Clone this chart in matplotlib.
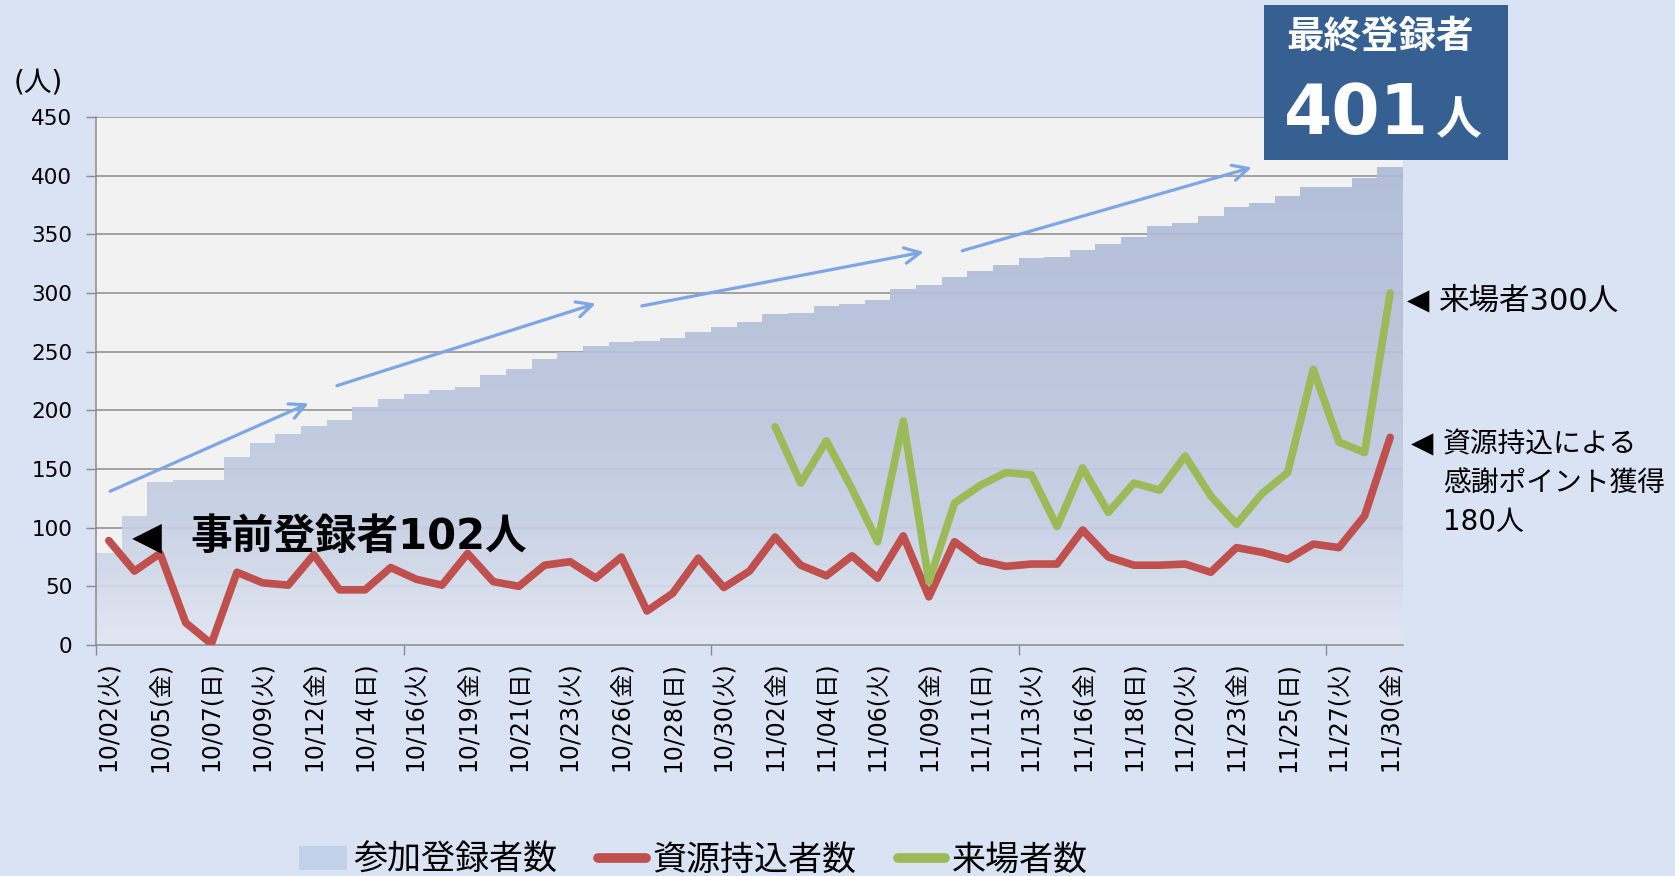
import matplotlib
matplotlib.use('Agg')
import matplotlib.pyplot as plt
import numpy as np
from matplotlib.colors import LinearSegmentedColormap
from matplotlib.patches import Patch, Rectangle
from matplotlib.lines import Line2D

# Latin digits from DejaVu (wide, like the original), kana/kanji from Noto CJK
plt.rcParams['font.family'] = ['DejaVu Sans', 'Noto Sans CJK JP']

# category labels (closed on Thursdays)
dates = ['10/02(火)', '10/03(水)', '10/05(金)', '10/06(土)', '10/07(日)', '10/08(月)',
         '10/09(火)', '10/10(水)', '10/12(金)', '10/13(土)', '10/14(日)', '10/15(月)',
         '10/16(火)', '10/17(水)', '10/19(金)', '10/20(土)', '10/21(日)', '10/22(月)',
         '10/23(火)', '10/24(水)', '10/26(金)', '10/27(土)', '10/28(日)', '10/29(月)',
         '10/30(火)', '10/31(水)', '11/02(金)', '11/03(土)', '11/04(日)', '11/05(月)',
         '11/06(火)', '11/07(水)', '11/09(金)', '11/10(土)', '11/11(日)', '11/12(月)',
         '11/13(火)', '11/14(水)', '11/16(金)', '11/17(土)', '11/18(日)', '11/19(月)',
         '11/20(火)', '11/21(水)', '11/23(金)', '11/24(土)', '11/25(日)', '11/26(月)',
         '11/27(火)', '11/28(水)', '11/30(金)']

# 参加登録者数 (cumulative)
registered = [78, 110, 139, 141, 141, 160, 172, 180, 187, 192,
              203, 210, 214, 217, 220, 230, 235, 244, 250, 255,
              258, 259, 262, 267, 271, 275, 282, 283, 289, 291,
              294, 303, 307, 314, 319, 324, 330, 331, 337, 342,
              348, 357, 360, 366, 373, 377, 383, 390, 390, 398, 407]

# 資源持込者数
resource = [89, 63, 78, 19, 1, 62, 53, 51, 77, 47,
            47, 66, 56, 51, 78, 54, 50, 68, 71, 57,
            75, 29, 44, 74, 49, 63, 92, 68, 59, 76,
            57, 93, 41, 88, 72, 67, 69, 69, 98, 75,
            68, 68, 69, 62, 83, 79, 73, 86, 83, 110, 177]

# 来場者数 (from 11/02)
visitor_start = '11/02(金)'
visitors = [186, 138, 174, 133, 88, 191, 54, 121, 136, 147,
            145, 101, 151, 113, 138, 132, 161, 127, 103, 129,
            147, 235, 173, 164, 300]

legend_labels = ['参加登録者数', '資源持込者数', '来場者数']

RED = '#C0504D'
GREEN = '#9BBB59'
ARROW = '#7FA6E4'

W, H = 1675, 876
fig = plt.figure(figsize=(W / 100, H / 100), dpi=100, facecolor='#DAE3F3')
ax = fig.add_axes([96 / W, 1 - 645 / H, (1403 - 96) / W, (645 - 117) / H])
ax.set_facecolor('#F2F2F2')

x = np.arange(len(dates))

# gradient-filled stepped columns
cmap = LinearSegmentedColormap.from_list(
    'reg', [(0, '#E0E6F2'), (0.25, '#C4CEE3'), (0.6, '#B5C1DA'), (1, '#ACB9D5')])
grad = np.linspace(0, 1, 256).reshape(-1, 1)
im = ax.imshow(grad, cmap=cmap, extent=(-0.5, len(dates) - 0.5, 0, 450),
               origin='lower', aspect='auto', zorder=1, alpha=0.92)
edges = np.arange(len(dates) + 1) - 0.5
poly = ax.fill_between(edges, np.append(registered, registered[-1]), step='post',
                       facecolor='none', edgecolor='none', zorder=1)
im.set_clip_path(poly.get_paths()[0], transform=ax.transData)

# lines
ax.plot(x, resource, color=RED, lw=5.5, solid_joinstyle='round',
        solid_capstyle='round', zorder=3)
vs = dates.index(visitor_start)
ax.plot(x[vs:], visitors, color=GREEN, lw=5.5, solid_joinstyle='round',
        solid_capstyle='round', zorder=3)

ax.set_xlim(-0.5, len(dates) - 0.5)
ax.set_ylim(0, 450)
ax.set_yticks(np.arange(0, 451, 50))
ax.yaxis.grid(True, color='#8C8C8C', lw=1.1)
ax.set_axisbelow(True)

ax.set_xticks(x[::2])
ax.set_xticklabels(dates[::2], rotation=90, fontsize=17)
ax.set_xticks(np.arange(-0.5, len(dates), 12), minor=True)
ax.tick_params(axis='x', which='major', length=0, pad=12, colors='#000000')
ax.tick_params(axis='x', which='minor', length=7, color='#8C8C8C', width=1)
ax.tick_params(axis='y', length=7, color='#8C8C8C', width=1, pad=10,
               labelsize=15.5, labelcolor='#000000')
for s in ['top', 'right']:
    ax.spines[s].set_visible(False)
for s in ['left', 'bottom']:
    ax.spines[s].set_color('#8C8C8C')
    ax.spines[s].set_linewidth(1.1)

fig.text(14 / W, 1 - 82 / H, '(人)', fontsize=20, va='center', ha='left')

# trend arrows
arrows = [((0.05, 131), (7.8, 206)), ((8.9, 221), (19.0, 291)),
          ((20.8, 289), (31.8, 335)), ((33.3, 336), (44.6, 407))]
for start, end in arrows:
    ax.annotate('', xy=end, xytext=start, annotation_clip=False,
                arrowprops=dict(arrowstyle='->', color=ARROW, lw=2.3,
                                mutation_scale=28, shrinkA=0, shrinkB=0),
                zorder=4)

# callouts
ax.text(1.5, 92, '◀', fontsize=28, ha='center', va='center', zorder=5)
ax.text(3.2, 92, '事前登録者102人', fontsize=30, fontweight='bold',
        ha='left', va='center', zorder=5)

ax.text(51.1, 293, '◀', fontsize=21, ha='center', va='center', clip_on=False)
ax.text(51.9, 293, '来場者300人', fontsize=22, ha='left', va='center', clip_on=False)

ax.text(51.25, 171, '◀', fontsize=21, ha='center', va='center', clip_on=False)
for line, yv in zip(['資源持込による', '感謝ポイント獲得', '180人'], [171, 138, 105]):
    ax.text(52.05, yv, line, fontsize=20, ha='left', va='center', clip_on=False)

# final registrations box
fig.patches.append(Rectangle((1264 / W, 1 - 160 / H), (1508 - 1264) / W, 155 / H,
                             transform=fig.transFigure, facecolor='#366092',
                             edgecolor='none', zorder=5))
fig.text(1286 / W, 1 - 38 / H, '最終登録者', fontsize=27, fontweight='bold',
         color='white', ha='left', va='center', zorder=6)
fig.text(1284 / W, 1 - 134 / H, '401', fontsize=50, fontweight='bold',
         color='white', ha='left', va='baseline', zorder=6)
fig.text(1436 / W, 1 - 134 / H, '人', fontsize=33, fontweight='bold',
         color='white', ha='left', va='baseline', zorder=6)

# legend
handles = [Patch(facecolor='#C3D0EA', edgecolor='none'),
           Line2D([], [], color=RED, lw=7, solid_capstyle='round'),
           Line2D([], [], color=GREEN, lw=7, solid_capstyle='round')]
fig.legend(handles, legend_labels, loc='center', bbox_to_anchor=(0.414, 0.018),
           ncol=3, frameon=False, fontsize=24.5, handlelength=1.4,
           handletextpad=0.2, columnspacing=1.2)

fig.savefig('out.png', dpi=100, facecolor=fig.get_facecolor())
